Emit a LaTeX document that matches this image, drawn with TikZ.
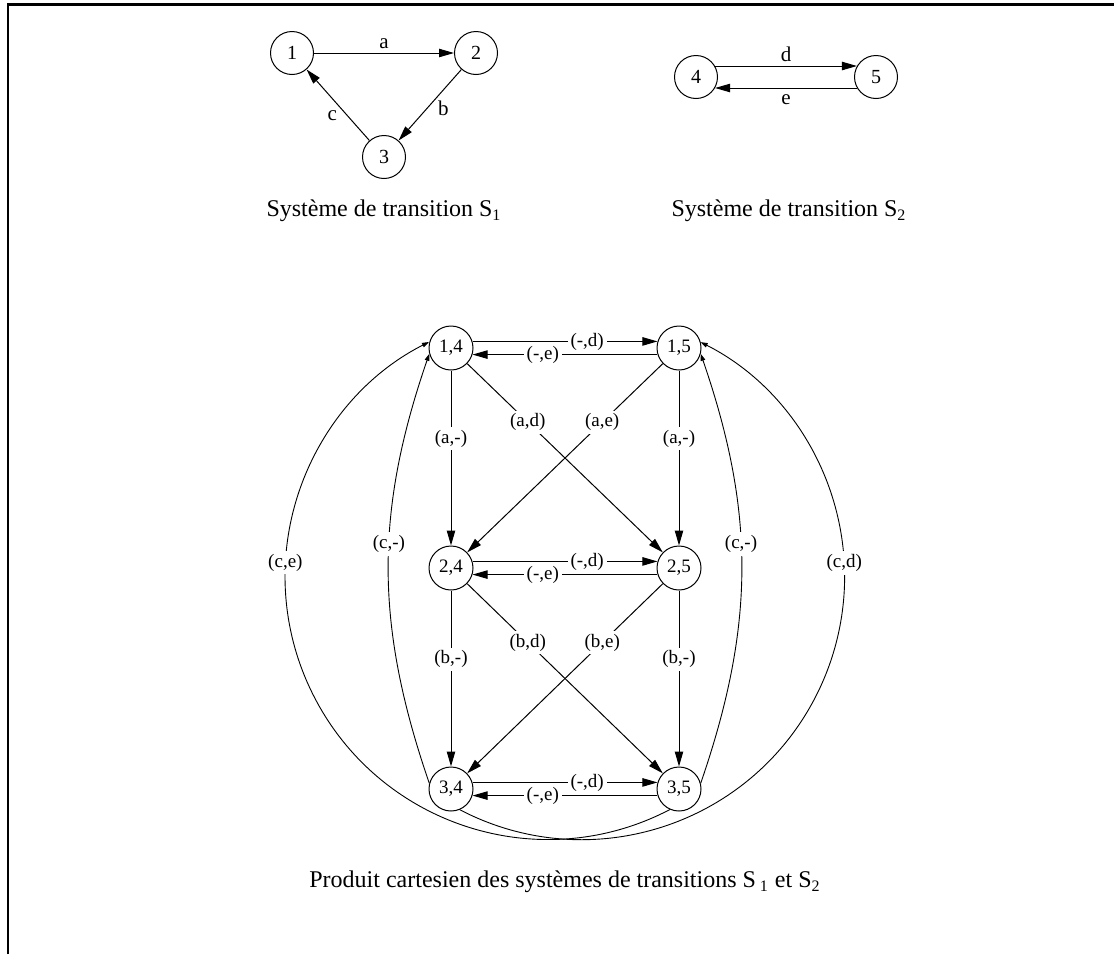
\documentclass[tikz,border=0pt]{standalone}
\usepackage{fontspec}
\setmainfont{Liberation Serif}
\usetikzlibrary{arrows.meta, positioning, calc}
\tikzset{
	state/.style={circle, on grid, draw=black, line width=0.5pt, minimum size=21.5pt, inner sep=0pt, font=\fontsize{10}{12}\selectfont},
	state_prod/.style={circle, on grid, draw=black, line width=0.5pt, minimum size=22pt, inner sep=0pt, font=\fontsize{9.5}{11}\selectfont},
	trans/.style={draw=black, line width=0.5pt, -{Triangle[length=7.5pt, width=4.2pt]}},
	trans_curve/.style={draw=black, line width=0.45pt, -{Triangle[length=3.5pt, width=2.3pt]}},
	lbl/.style={font=\fontsize{10.5}{12}\selectfont, inner sep=2pt},
	lbl_prod/.style={fill=white, font=\fontsize{9.5}{11}\selectfont, inner sep=1.5pt},
	caption_txt/.style={font=\fontsize{12}{14}\selectfont}
}

\begin{document}
\begin{tikzpicture}[x=0.5pt, y=0.5pt]
	\useasboundingbox (0,0) rectangle (1114,-954);
	\draw[line width=1pt] (7.7,-954) -- (7.7,-3);
	\draw[line width=1.4pt] (7,-4.3) -- (1114,-4.3);

	% S1
	\node[state] (s1) at (292,-53) {1};
	\node[state, right=92pt of s1] (s2) {2};
	\node[state, below right=52pt and 46pt of s1] (s3) {3};
	\draw[trans] (s1) -- node[lbl, above] {a} (s2);
	\draw[trans] (s2) -- node[lbl, pos=0.55, right=3.4pt] {b} (s3);
	\draw[trans] (s3) -- node[lbl, pos=0.35, left=3pt] {c} (s1);
	\node[caption_txt] (cap1) at (384,-211) {Système de transition S\textsubscript{1}};

	% S2
	\node[state] (s4) at (696,-77) {4};
	\node[state, right=90pt of s4] (s5) {5};
	\draw[trans] (s4.30) -- node[lbl, above] {d} (s5.150);
	\draw[trans] (s5.210) -- node[lbl, below=1pt] {e} (s4.330);
	\node[caption_txt] (cap2) at (789,-211) {Système de transition S\textsubscript{2}};

	% produit
	\node[state_prod] (p14) at (451,-348) {1,4};
	\node[state_prod, right=114pt of p14] (p15) {1,5};
	\node[state_prod, below=110pt of p14] (p24) {2,4};
	\node[state_prod, below=110pt of p15] (p25) {2,5};
	\node[state_prod, below=110.5pt of p24] (p34) {3,4};
	\node[state_prod, below=110.5pt of p25] (p35) {3,5};

	\foreach \r in {1,2,3} {
		\draw[trans] (p\r4.17) -- node[lbl_prod, pos=0.62] {(-,d)} (p\r5.163);
		\draw[trans] (p\r5.197) -- node[lbl_prod, pos=0.62] {(-,e)} (p\r4.343);
	}

	\draw[trans] (p14) -- node[lbl_prod, pos=0.39] {(a,-)} (p24);
	\draw[trans] (p15) -- node[lbl_prod, pos=0.39] {(a,-)} (p25);
	\draw[trans] (p24) -- node[lbl_prod, pos=0.39] {(b,-)} (p34);
	\draw[trans] (p25) -- node[lbl_prod, pos=0.39] {(b,-)} (p35);
	\draw[trans] (p14) -- node[lbl_prod, pos=0.31] {(a,d)} (p25);
	\draw[trans] (p15) -- node[lbl_prod, pos=0.31] {(a,e)} (p24);
	\draw[trans] (p24) -- node[lbl_prod, pos=0.31] {(b,d)} (p35);
	\draw[trans] (p25) -- node[lbl_prod, pos=0.31] {(b,e)} (p34);

	\draw[trans_curve] (p34.165) to[bend left=19] node[lbl_prod, pos=0.56] {(c,-)} (p14.195);
	\draw[trans_curve] (p35.15) to[bend right=19] node[lbl_prod, pos=0.56] {(c,-)} (p15.345);
	\draw[trans_curve] (p35.246) arc[start angle=-62.4, end angle=-183, radius=263]
		node[lbl_prod] {(c,e)} arc[start angle=-183, end angle=-243.1, radius=263];
	\draw[trans_curve] (p34.293.7) arc[start angle=-117.6, end angle=3, radius=263]
		node[lbl_prod] {(c,d)} arc[start angle=3, end angle=63.1, radius=263];

	\node[caption_txt] (cap3) at (565,-882) {Produit cartesien des systèmes de transitions S\,\textsubscript{1} et S\textsubscript{2}};
\end{tikzpicture}
\end{document}
